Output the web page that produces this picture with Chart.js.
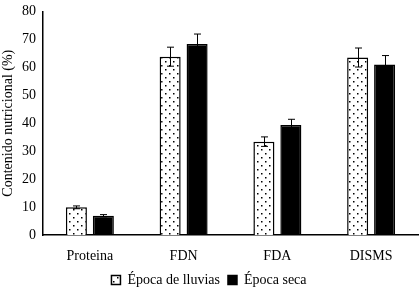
<!DOCTYPE html>
<html>
<head>
<meta charset="utf-8">
<script src="https://cdn.jsdelivr.net/npm/chart.js@4/dist/chart.umd.min.js"></script>
<style>
  html, body { margin: 0; padding: 0; background: #fff; }
  #wrap { width: 419px; height: 289px; }
</style>
</head>
<body>
<div id="wrap"><canvas id="chart"></canvas></div>
<script>
'use strict';

// datos
const categories = ['Proteina', 'FDN', 'FDA', 'DISMS'];
const lluvias = [9.9, 63.8, 33.4, 63.5];
const lluviasErr = [0.5, 3.4, 1.7, 3.4];
const seca = [6.9, 68.3, 39.4, 61.0];
const secaErr = [0.4, 3.6, 2.0, 3.2];
const yTicks = [0, 10, 20, 30, 40, 50, 60, 70, 80];

const errors = [lluviasErr, secaErr];

// patron de puntos para la serie de lluvias
function dotPattern() {
  const c = document.createElement('canvas');
  c.width = 8;
  c.height = 8;
  const g = c.getContext('2d');
  g.fillStyle = '#fff';
  g.fillRect(0, 0, 8, 8);
  g.fillStyle = '#000';
  g.fillRect(1, 1, 1.5, 1.5);
  g.fillRect(5, 5, 1.5, 1.5);
  return g.createPattern(c, 'repeat');
}

const errorBars = {
  id: 'errorBars',
  afterDatasetsDraw(chart) {
    const ctx = chart.ctx;
    const y = chart.scales.y;
    ctx.save();
    ctx.strokeStyle = '#000';
    ctx.lineWidth = 1;
    chart.data.datasets.forEach((ds, i) => {
      chart.getDatasetMeta(i).data.forEach((bar, j) => {
        const v = ds.data[j];
        const e = errors[i][j];
        const top = y.getPixelForValue(v + e);
        const bot = y.getPixelForValue(v - e);
        const x = Math.round(bar.x) + 0.5;
        ctx.beginPath();
        ctx.moveTo(x, top);
        ctx.lineTo(x, bot);
        ctx.moveTo(x - 3.5, top);
        ctx.lineTo(x + 3.5, top);
        ctx.moveTo(x - 3.5, bot);
        ctx.lineTo(x + 3.5, bot);
        ctx.stroke();
      });
    });
    ctx.restore();
  },
};

// leyenda mas baja, como en el original
const legendHeight = {
  id: 'legendHeight',
  afterInit(chart) {
    const legend = chart.legend;
    const fit = legend.fit;
    legend.fit = function () {
      fit.call(this);
      this.height = 24;
    };
  },
};

const font = { family: '"Liberation Serif", "Times New Roman", serif', size: 14 };

new Chart(document.getElementById('chart'), {
  type: 'bar',
  data: {
    labels: categories,
    datasets: [
      {
        label: 'Época de lluvias',
        data: lluvias,
        backgroundColor: dotPattern(),
        borderColor: '#000',
        borderWidth: 1.5,
      },
      {
        label: 'Época seca',
        data: seca,
        backgroundColor: '#000',
        borderColor: '#000',
        borderWidth: 1.5,
      },
    ],
  },
  options: {
    responsive: true,
    maintainAspectRatio: false,
    animation: false,
    devicePixelRatio: 1,
    categoryPercentage: 0.575,
    barPercentage: 0.78,
    layout: { padding: { top: 5, right: 1, left: 0, bottom: 0 } },
    plugins: {
      legend: {
        position: 'bottom',
        labels: {
          color: '#000',
          font: font,
          boxWidth: 9,
          boxHeight: 9,
          padding: 8,
        },
      },
      tooltip: { enabled: false },
    },
    scales: {
      x: {
        afterFit: scale => {
          scale.height = 30;
        },
        grid: { display: false, drawTicks: false },
        border: { color: '#000', width: 1.5 },
        ticks: { color: '#000', font: font, padding: 13 },
      },
      y: {
        min: 0,
        max: 80,
        afterBuildTicks: scale => {
          scale.ticks = yTicks.map(v => ({ value: v }));
        },
        afterFit: scale => {
          scale.width = 43;
        },
        grid: { display: false, drawTicks: true, tickLength: 4, tickColor: '#000' },
        border: { color: '#000', width: 1.5 },
        ticks: { color: '#000', font: font, padding: 3 },
        title: {
          display: true,
          text: 'Contenido nutricional (%)',
          color: '#000',
          font: font,
          padding: 0,
        },
      },
    },
  },
  plugins: [errorBars, legendHeight],
});
</script>
</body>
</html>
